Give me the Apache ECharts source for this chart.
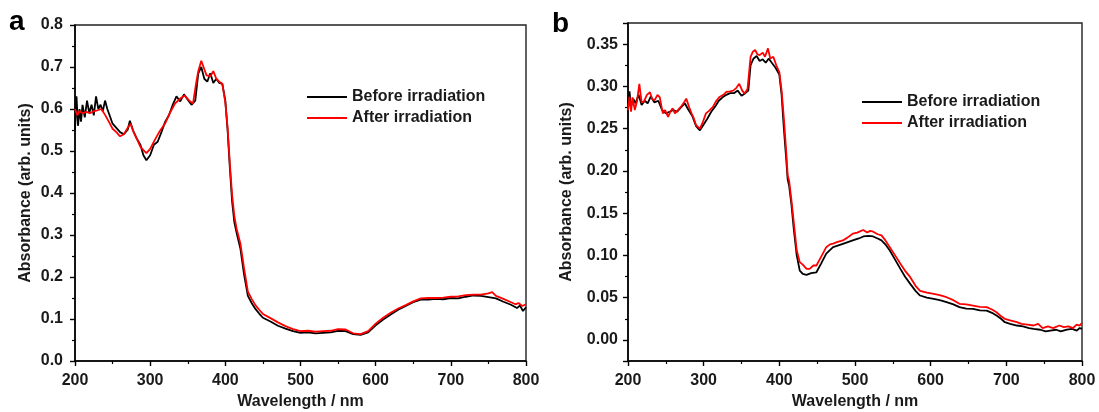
<!DOCTYPE html>
<html>
<head>
<meta charset="utf-8">
<script src="https://cdn.jsdelivr.net/npm/echarts@6/dist/echarts.min.js"></script>
<style>html,body{margin:0;padding:0;background:#fff;}#c{width:1099px;height:412px;}</style>
</head>
<body>
<div id="c"></div>
<script>
// ---- Data (wavelength nm, absorbance) ----
const seriesNames = ['Before irradiation', 'After irradiation'];
const xTicksA = [200, 300, 400, 500, 600, 700, 800];

const aBefore = [[200,0.55],[202,0.63],[204,0.56],[206,0.60],[208,0.57],[210,0.61],[213,0.58],[216,0.62],[219,0.59],[222,0.61],[225,0.585],[228,0.63],[231,0.60],[234,0.61],[237,0.595],[240,0.62],[243,0.60],[246,0.585],[250,0.565],[255,0.555],[260,0.545],[265,0.54],[270,0.55],[273,0.572],[277,0.55],[282,0.53],[287,0.515],[291,0.49],[295,0.478],[300,0.49],[305,0.515],[310,0.522],[315,0.545],[320,0.57],[325,0.585],[330,0.61],[335,0.63],[340,0.618],[345,0.635],[350,0.622],[355,0.61],[360,0.62],[364,0.685],[368,0.70],[372,0.672],[376,0.665],[380,0.685],[384,0.662],[388,0.672],[392,0.662],[396,0.66],[400,0.62],[403,0.55],[406,0.46],[409,0.38],[412,0.33],[415,0.305],[420,0.268],[425,0.205],[430,0.155],[435,0.138],[440,0.124],[445,0.113],[450,0.103],[460,0.094],[470,0.084],[480,0.077],[490,0.071],[500,0.067],[510,0.068],[520,0.066],[530,0.067],[540,0.068],[550,0.072],[560,0.071],[570,0.064],[580,0.062],[590,0.068],[600,0.085],[610,0.099],[620,0.111],[630,0.122],[640,0.131],[650,0.140],[660,0.146],[670,0.146],[680,0.148],[690,0.147],[700,0.150],[710,0.149],[720,0.153],[730,0.156],[740,0.155],[750,0.152],[760,0.149],[770,0.141],[780,0.134],[788,0.126],[792,0.132],[796,0.119],[800,0.128]];

const aAfter = [[200,0.60],[203,0.585],[206,0.595],[210,0.59],[215,0.593],[220,0.59],[225,0.595],[230,0.597],[235,0.60],[240,0.586],[245,0.57],[250,0.553],[255,0.545],[260,0.535],[265,0.54],[270,0.555],[274,0.565],[278,0.545],[282,0.53],[287,0.51],[291,0.502],[295,0.495],[300,0.505],[306,0.526],[312,0.545],[320,0.566],[326,0.59],[333,0.613],[340,0.625],[346,0.632],[352,0.62],[357,0.613],[361,0.66],[364,0.69],[368,0.715],[371,0.70],[375,0.68],[380,0.678],[384,0.69],[388,0.672],[392,0.665],[396,0.66],[400,0.615],[403,0.555],[406,0.47],[409,0.395],[412,0.345],[415,0.315],[420,0.28],[425,0.22],[430,0.165],[435,0.148],[440,0.133],[445,0.122],[450,0.112],[460,0.102],[470,0.092],[480,0.083],[490,0.076],[500,0.071],[510,0.072],[520,0.070],[530,0.071],[540,0.072],[550,0.076],[560,0.075],[570,0.066],[580,0.064],[590,0.071],[600,0.089],[610,0.103],[620,0.115],[630,0.125],[640,0.133],[650,0.142],[660,0.149],[670,0.150],[680,0.150],[690,0.151],[700,0.153],[710,0.154],[720,0.157],[730,0.158],[740,0.158],[750,0.161],[755,0.164],[760,0.155],[770,0.148],[780,0.140],[786,0.135],[790,0.138],[795,0.131],[800,0.135]];

const bBefore = [[200,0.280],[202,0.294],[204,0.276],[207,0.285],[210,0.280],[214,0.290],[218,0.278],[222,0.283],[226,0.280],[230,0.288],[235,0.281],[240,0.283],[245,0.272],[250,0.268],[255,0.270],[260,0.272],[265,0.270],[270,0.275],[275,0.280],[280,0.272],[285,0.265],[290,0.253],[295,0.248],[300,0.255],[305,0.262],[310,0.270],[315,0.276],[320,0.283],[325,0.287],[330,0.290],[335,0.292],[340,0.292],[345,0.295],[350,0.289],[355,0.292],[359,0.295],[362,0.325],[366,0.333],[370,0.336],[374,0.330],[378,0.332],[382,0.328],[386,0.333],[390,0.328],[395,0.322],[400,0.314],[403,0.290],[406,0.250],[409,0.215],[411,0.190],[413,0.182],[416,0.160],[419,0.132],[423,0.100],[427,0.082],[431,0.078],[436,0.077],[442,0.079],[449,0.080],[455,0.090],[462,0.102],[471,0.1097],[484,0.1137],[497,0.1177],[505,0.120],[511,0.1224],[518,0.123],[524,0.1224],[530,0.120],[535,0.1177],[541,0.112],[546,0.1058],[553,0.095],[560,0.084],[566,0.075],[573,0.0663],[580,0.058],[586,0.0525],[595,0.050],[604,0.0486],[612,0.047],[621,0.0446],[630,0.042],[638,0.0387],[647,0.037],[656,0.0367],[665,0.035],[674,0.0347],[681,0.032],[687,0.0288],[693,0.025],[698,0.0209],[705,0.019],[714,0.017],[722,0.016],[730,0.014],[736,0.013],[745,0.012],[752,0.010],[758,0.011],[766,0.012],[772,0.010],[780,0.012],[787,0.013],[793,0.011],[797,0.014],[800,0.013]];

const bAfter = [[200,0.272],[202,0.288],[204,0.270],[206,0.287],[209,0.272],[212,0.283],[215,0.303],[218,0.281],[221,0.282],[225,0.290],[229,0.293],[232,0.285],[235,0.2835],[239,0.290],[242,0.287],[246,0.268],[249,0.272],[253,0.264],[256,0.270],[259,0.274],[262,0.268],[266,0.272],[270,0.276],[274,0.281],[277,0.2855],[281,0.275],[284,0.268],[287,0.262],[290,0.254],[295,0.250],[299,0.258],[303,0.268],[307,0.271],[312,0.2755],[316,0.282],[321,0.2875],[326,0.290],[330,0.2934],[335,0.294],[339,0.295],[343,0.298],[347,0.303],[351,0.295],[354,0.2915],[358,0.297],[362,0.335],[365,0.341],[368,0.343],[371,0.338],[374,0.337],[378,0.340],[381,0.335],[385,0.345],[388,0.333],[392,0.335],[396,0.325],[400,0.317],[403,0.295],[406,0.262],[409,0.224],[411,0.195],[413,0.188],[416,0.165],[419,0.140],[423,0.106],[427,0.092],[431,0.089],[436,0.084],[440,0.084],[445,0.088],[449,0.088],[455,0.098],[462,0.1097],[467,0.113],[471,0.114],[477,0.116],[484,0.1177],[490,0.121],[497,0.1256],[503,0.127],[508,0.129],[511,0.130],[516,0.127],[520,0.129],[524,0.128],[530,0.125],[535,0.1236],[540,0.118],[546,0.1097],[553,0.100],[560,0.090],[566,0.082],[573,0.0742],[580,0.064],[586,0.058],[595,0.056],[604,0.0545],[612,0.053],[621,0.0505],[630,0.047],[638,0.0427],[647,0.042],[656,0.0406],[665,0.039],[674,0.0387],[681,0.036],[687,0.0327],[693,0.028],[698,0.0249],[705,0.023],[714,0.0209],[720,0.019],[728,0.018],[736,0.017],[742,0.019],[748,0.014],[755,0.016],[762,0.014],[770,0.017],[776,0.015],[782,0.016],[788,0.014],[793,0.018],[797,0.017],[800,0.020]];

// ---- Chart ----
const FONT = 'Liberation Sans, Arial, Helvetica, sans-serif';
const TXT = '#1a1a1a';
const axisLineStyle = { color: '#000', width: 1.6 };

function xAxisCfg(gridIndex) {
  return {
    type: 'value', gridIndex: gridIndex, min: 200, max: 800, interval: 100,
    name: 'Wavelength / nm', nameLocation: 'middle', nameGap: 32,
    nameTextStyle: { fontFamily: FONT, fontWeight: 'bold', fontSize: 16, color: TXT },
    axisLine: { show: true, onZero: false, lineStyle: axisLineStyle },
    axisTick: { show: true, inside: false, length: 5, lineStyle: { color: '#000', width: 1.4 } },
    minorTick: { show: true, splitNumber: 2, length: 3, lineStyle: { color: '#000', width: 1.2 } },
    axisLabel: { fontFamily: FONT, fontWeight: 'bold', fontSize: 16, color: TXT, margin: 12 },
    splitLine: { show: false }
  };
}

function yAxisCfg(gridIndex, min, max, digits, gap, margin) {
  return {
    type: 'value', gridIndex: gridIndex, min: min, max: max,
    name: 'Absorbance (arb. units)', nameLocation: 'middle', nameGap: gap,
    nameTextStyle: { fontFamily: FONT, fontWeight: 'bold', fontSize: 16, color: TXT },
    axisLine: { show: true, onZero: false, lineStyle: axisLineStyle },
    axisTick: { show: true, inside: false, length: 5, lineStyle: { color: '#000', width: 1.4 } },
    minorTick: { show: true, splitNumber: 2, length: 3, lineStyle: { color: '#000', width: 1.2 } },
    axisLabel: { fontFamily: FONT, fontWeight: 'bold', fontSize: 16, color: TXT, margin: margin,
      formatter: v => v.toFixed(digits) },
    splitLine: { show: false }
  };
}

function lineSeries(name, data, color, xi, yi) {
  return {
    type: 'line', name: name, data: data, xAxisIndex: xi, yAxisIndex: yi,
    showSymbol: false, symbol: 'none', smooth: false,
    lineStyle: { color: color, width: 1.8 }, itemStyle: { color: color },
    animation: false
  };
}

function legendCfg(left, top) {
  return {
    data: seriesNames, orient: 'vertical', left: left, top: top, padding: 0,
    icon: 'rect', itemWidth: 40, itemHeight: 2, itemGap: 5,
    textStyle: { fontFamily: FONT, fontWeight: 'bold', fontSize: 16, color: TXT, lineHeight: 16 },
    selectedMode: false
  };
}

const yA = yAxisCfg(0, 0, 0.8, 1, 41, 12);
yA.interval = 0.1;
const yB = yAxisCfg(1, -0.025, 0.375, 2, 53, 10);
yB.splitNumber = 8;
yB.axisLabel.showMinLabel = false;
yB.axisLabel.showMaxLabel = false;

const chart = echarts.init(document.getElementById('c'), null, { renderer: 'canvas' });
chart.setOption({
  backgroundColor: '#fff',
  animation: false,
  title: [
    { text: 'a', left: 9, top: 8, padding: 0, textStyle: { fontFamily: FONT, fontWeight: 'bold', fontSize: 28, color: '#000' } },
    { text: 'b', left: 552, top: 10, padding: 0, textStyle: { fontFamily: FONT, fontWeight: 'bold', fontSize: 28, color: '#000' } }
  ],
  grid: [
    { left: 75, top: 25, width: 451, height: 336, show: true, borderColor: '#222', borderWidth: 1.4, backgroundColor: 'transparent', containLabel: false, outerBoundsMode: 'none' },
    { left: 628, top: 23, width: 454, height: 338, show: true, borderColor: '#222', borderWidth: 1.4, backgroundColor: 'transparent', containLabel: false, outerBoundsMode: 'none' }
  ],
  legend: [legendCfg(307, 89), legendCfg(862, 94)],
  xAxis: [xAxisCfg(0), xAxisCfg(1)],
  yAxis: [yA, yB],
  series: [
    lineSeries(seriesNames[0], aBefore, '#000000', 0, 0),
    lineSeries(seriesNames[1], aAfter, '#ff0000', 0, 0),
    lineSeries(seriesNames[0], bBefore, '#000000', 1, 1),
    lineSeries(seriesNames[1], bAfter, '#ff0000', 1, 1)
  ]
});
</script>
</body>
</html>
